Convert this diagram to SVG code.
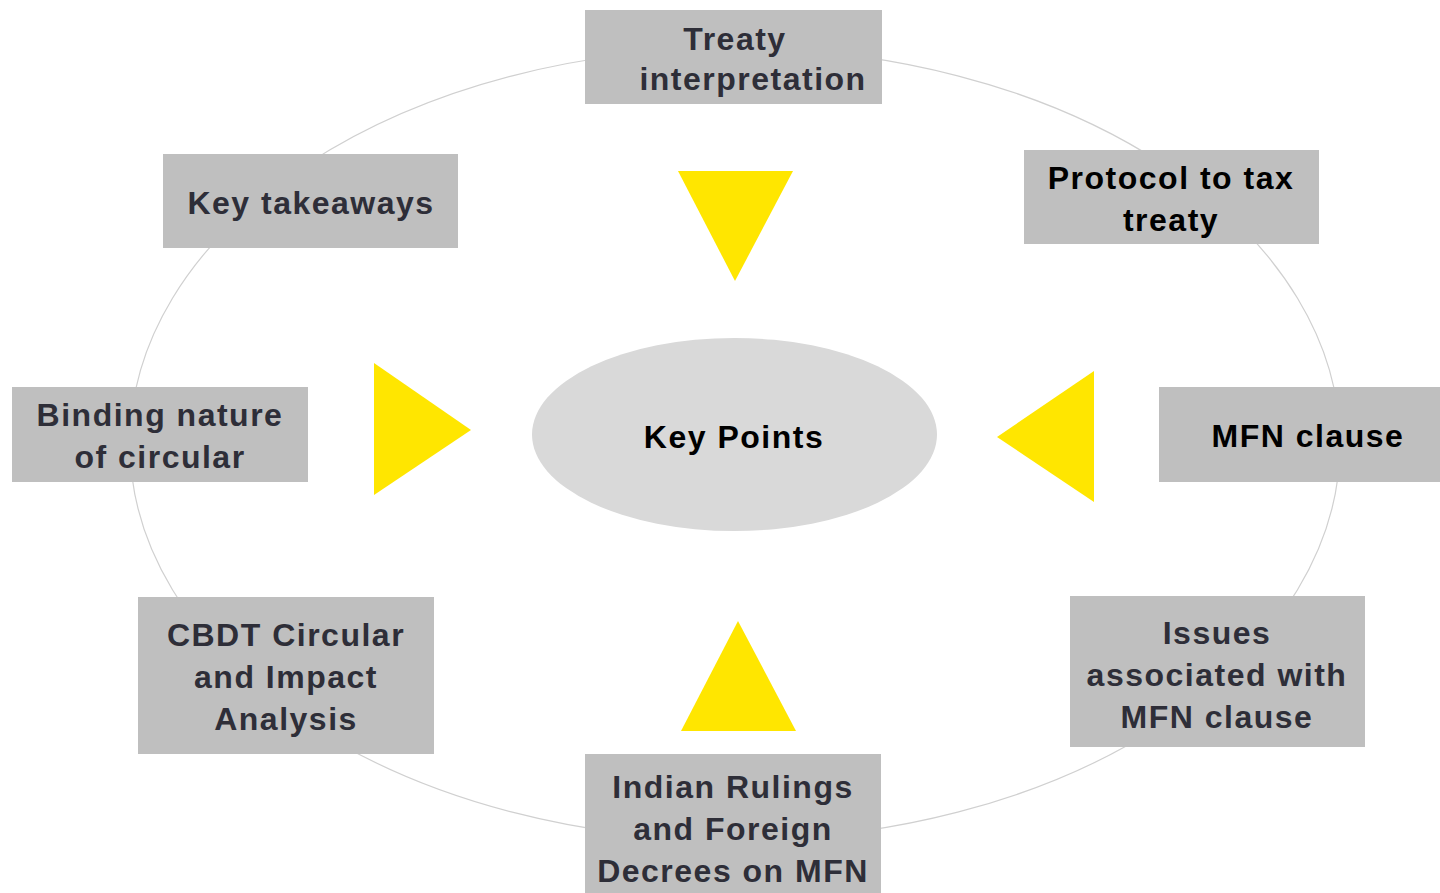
<svg xmlns="http://www.w3.org/2000/svg" width="1440" height="893" viewBox="0 0 1440 893">
<style>
.box{fill:#bfbfbf}
.t{font-family:"Liberation Sans",Arial,sans-serif;font-weight:bold;font-size:32px;letter-spacing:1.5px;text-anchor:middle;fill:#2e2e38}
.k{fill:#000}
.tri{fill:#ffe600}
.ring{fill:none;stroke:#d0d0d0;stroke-width:1.2}
</style>
<rect width="1440" height="893" fill="#fff"/>
<g id="connectors">
<ellipse class="ring" cx="735" cy="444" rx="605" ry="396"/>
</g>
<g id="arrows">
<polygon class="tri" points="678,171 793,171 735,281"/>
<polygon class="tri" points="374,363 374,495 471,430"/>
<polygon class="tri" points="1094,371 1094,502 997,437"/>
<polygon class="tri" points="738,621 681,731 796,731"/>
</g>
<g id="center">
<ellipse cx="734.5" cy="434.5" rx="202.5" ry="96.5" fill="#d9d9d9"/>
<text class="t k" x="734" y="448">Key Points</text>
</g>
<g id="treaty">
<rect class="box" x="585" y="10" width="297" height="94"/>
<text class="t" x="735" y="50">Treaty</text>
<text class="t" x="753" y="90">interpretation</text>
</g>
<g id="protocol">
<rect class="box" x="1024" y="150" width="295" height="94"/>
<text class="t k" x="1171" y="189">Protocol to tax</text>
<text class="t k" x="1171" y="231">treaty</text>
</g>
<g id="mfn">
<rect class="box" x="1159" y="387" width="281" height="95"/>
<text class="t k" x="1308" y="447">MFN clause</text>
</g>
<g id="issues">
<rect class="box" x="1070" y="596" width="295" height="151"/>
<text class="t" x="1217" y="644">Issues</text>
<text class="t" x="1217" y="686">associated with</text>
<text class="t" x="1217" y="728">MFN clause</text>
</g>
<g id="indian">
<rect class="box" x="585" y="754" width="296" height="139"/>
<text class="t" x="733" y="798">Indian Rulings</text>
<text class="t" x="733" y="840">and Foreign</text>
<text class="t" x="733" y="882">Decrees on MFN</text>
</g>
<g id="cbdt">
<rect class="box" x="138" y="597" width="296" height="157"/>
<text class="t" x="286" y="646">CBDT Circular</text>
<text class="t" x="286" y="688">and Impact</text>
<text class="t" x="286" y="730">Analysis</text>
</g>
<g id="binding">
<rect class="box" x="12" y="387" width="296" height="95"/>
<text class="t" x="160" y="426">Binding nature</text>
<text class="t" x="160" y="468">of circular</text>
</g>
<g id="takeaways">
<rect class="box" x="163" y="154" width="295" height="94"/>
<text class="t" x="311" y="214">Key takeaways</text>
</g>
</svg>
